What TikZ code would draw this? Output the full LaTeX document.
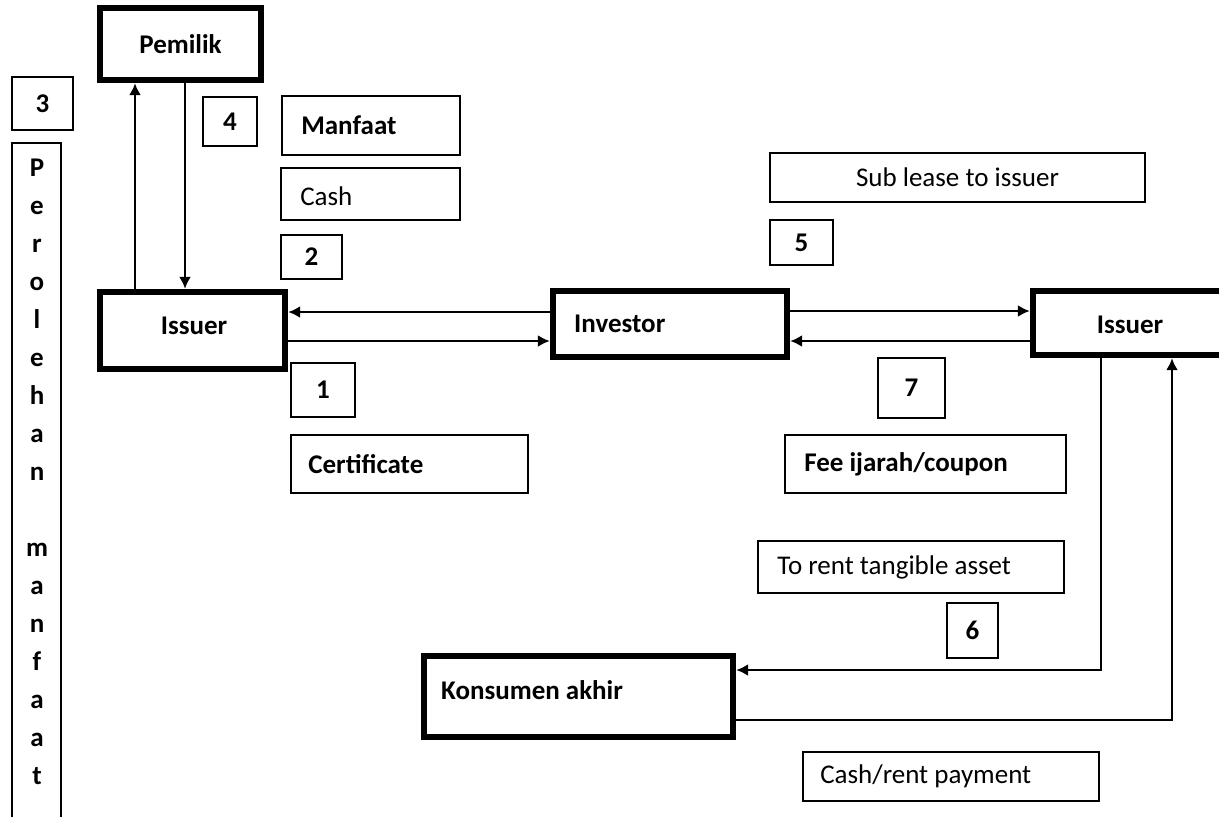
\documentclass[tikz,border=0pt]{standalone}
\usepackage{fontspec}
\setmainfont{Carlito}
\usetikzlibrary{arrows.meta,positioning,fit}

\tikzset{
  box/.style={draw, line width=1.1pt, inner sep=0pt},
  heavybox/.style={draw, line width=3.2pt, inner sep=0pt},
  lbl/.style={font=\fontsize{13.5}{16}\selectfont, inner sep=0pt},
  blbl/.style={font=\fontsize{13.5}{16}\selectfont\bfseries, inner sep=0pt},
  conn/.style={line width=1.1pt, ->, >={Latex[length=6pt,width=6pt]}},
}

\begin{document}
\begin{tikzpicture}[x=0.5pt,y=-0.5pt]
  \useasboundingbox (0,0) rectangle (1219,816);
  \fill[white] (0,0) rectangle (1219,816);
  % parties
  \node[heavybox, fit={(100,8) (261,80)}] (pemilik) {};
  \node[blbl] (pemiliktxt) at (pemilik.center) {Pemilik};
  \node[heavybox, fit={(100,292) (285,369)}] (issuerL) {};
  \node[blbl] (issuerLtxt) at (194,326) {Issuer};
  \node[heavybox, fit={(553,291) (787,357)}] (investor) {};
  \node[blbl, right=12pt of investor.west] (investortxt) {Investor};
  \node[heavybox, fit={(1033,291) (1228,355)}] (issuerR) {};
  \node[blbl] (issuerRtxt) at (1130,325) {Issuer};
  \node[heavybox, fit={(424,656) (733,737)}] (konsumen) {};
  \node[blbl, right=10pt of konsumen.west, yshift=3pt] (konsumentxt) {Konsumen akhir};
  % side column
  \node[box, fit={(12,77) (73,130)}] (n3) {};
  \node[blbl] (n3txt) at (n3.center) {3};
  \node[box, fit={(12,143) (61,822)}] (perolehan) {};
  \node[blbl, align=center, font=\fontsize{13.5}{19}\selectfont\bfseries]
    (perolehantxt) at (37,472)
    {P\\e\\r\\o\\l\\e\\h\\a\\n\\[19pt]m\\a\\n\\f\\a\\a\\t};
  % labels
  \node[box, fit={(203,97) (257,146)}] (n4) {};
  \node[blbl] (n4txt) at (n4.center) {4};
  \node[box, fit={(282,96) (460,155)}] (manfaat) {};
  \node[blbl, right=10pt of manfaat.west] (manfaattxt) {Manfaat};
  \node[box, fit={(281,168) (460,220)}] (cash) {};
  \node[lbl, right=10pt of cash.west, yshift=-1pt] (cashtxt) {Cash};
  \node[box, fit={(281,235) (342,279)}] (n2) {};
  \node[blbl] (n2txt) at (n2.center) {2};
  \node[box, fit={(291,363) (355,417)}] (n1) {};
  \node[blbl] (n1txt) at (n1.center) {1};
  \node[box, fit={(291,435) (528,493)}] (certificate) {};
  \node[blbl, right=9pt of certificate.west] (certificatetxt) {Certificate};
  \node[box, fit={(770,153) (1145,202)}] (sublease) {};
  \node[lbl] (subleasetxt) at (sublease.center) {Sub lease to issuer};
  \node[box, fit={(770,220) (833,265)}] (n5) {};
  \node[blbl] (n5txt) at (n5.center) {5};
  \node[box, fit={(878,358) (945,418)}] (n7) {};
  \node[blbl] (n7txt) at (n7.center) {7};
  \node[box, fit={(785,435) (1066,493)}] (fee) {};
  \node[blbl, right=10pt of fee.west] (feetxt) {Fee ijarah/coupon};
  \node[box, fit={(758,541) (1064,593)}] (torent) {};
  \node[lbl, right=10pt of torent.west] (torenttxt) {To rent tangible asset};
  \node[box, fit={(947,603) (998,658)}] (n6) {};
  \node[blbl] (n6txt) at (n6.center) {6};
  \node[box, fit={(803,752) (1099,801)}] (cashrent) {};
  \node[lbl, right=9pt of cashrent.west] (cashrenttxt) {Cash/rent payment};
  % connectors
  \draw[conn] (issuerL.north -| 135,0) -- (pemilik.south -| 135,0);
  \draw[conn] (pemilik.south -| 185,0) -- (issuerL.north -| 185,0);
  \draw[conn] (investor.west |- 0,312) -- (issuerL.east |- 0,312);
  \draw[conn] (issuerL.east |- 0,341) -- (investor.west |- 0,341);
  \draw[conn] (investor.east |- 0,311) -- (issuerR.west |- 0,311);
  \draw[conn] (issuerR.west |- 0,341) -- (investor.east |- 0,341);
  \draw[conn] (issuerR.south -| 1101,0) |- (konsumen.east |- 0,670);
  \draw[conn] (konsumen.east |- 0,720) -| (issuerR.south -| 1172,0);
\end{tikzpicture}
\end{document}
